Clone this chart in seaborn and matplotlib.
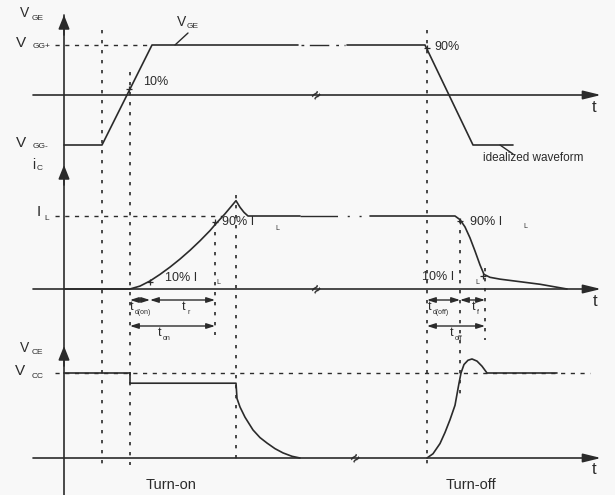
import matplotlib
matplotlib.use("Agg")
import matplotlib.pyplot as plt
import seaborn as sns

# time axis in px-like units, t = 0 at the vertical axis
# gate-emitter voltage (V_GG- = -1, V_GG+ = 1)
t_vge_on = [0, 38, 88, 234]
v_vge_on = [-1, -1, 1, 1]
t_vge_off = [283, 361, 409, 449]
v_vge_off = [1, 1, -1, -1]

# collector current (I_L = 1)
t_ic_on = [0, 66, 76, 86, 96, 106, 116, 126, 136, 146, 151, 161, 172, 176, 180, 184, 236]
v_ic_on = [0, 0, 0.04, 0.11, 0.2, 0.3, 0.41, 0.53, 0.66, 0.8, 0.88, 1.03, 1.21, 1.12, 1.05, 1.0, 1.0]
t_ic_off = [306, 391, 396, 401, 406, 411, 416, 420, 426, 436, 456, 476, 503]
v_ic_off = [1, 1, 0.95, 0.85, 0.7, 0.52, 0.33, 0.2, 0.16, 0.135, 0.1, 0.065, 0]

# collector-emitter voltage (V_CC = 1)
t_vce_on = [0, 66, 66, 172, 173, 176, 181, 189, 196, 203, 211, 219, 228, 236]
v_vce_on = [1, 1, 0.88, 0.88, 0.7, 0.6, 0.48, 0.33, 0.24, 0.176, 0.11, 0.06, 0.02, 0]
t_vce_off = [363, 369, 376, 381, 386, 391, 395, 397, 400, 404, 408, 413, 418, 423, 493]
v_vce_off = [0, 0.05, 0.17, 0.3, 0.45, 0.62, 0.88, 1.0, 1.1, 1.15, 1.165, 1.14, 1.08, 1.0, 1.0]

# switching instants and the span of their dotted guides (top, bottom in px)
guides = [(38, 30, 465), (66, 72, 465), (151, 222, 335), (172, 195, 465),
          (363, 30, 465), (396, 220, 395), (421, 268, 340)]

# timing intervals: (start, end, row y px)
intervals = [(66, 86, 300), (86, 151, 300), (66, 151, 326),
             (363, 396, 300), (396, 421, 300), (363, 421, 326)]

sns.set_style("white")
plt.rcParams['font.family'] = ['Liberation Sans', 'DejaVu Sans']
ink = "#2b2b2b"
bg = "#f8f8f8"

W, H = 615, 495
fig = plt.figure(figsize=(6.15, 4.95), dpi=100, facecolor=bg)
xlim = (-64, 551)

def panel(top, bottom, zero, unit):
    ax = fig.add_axes([0, 1 - bottom / H, 1, (bottom - top) / H])
    ax.set_xlim(*xlim)
    ax.set_ylim((zero - bottom) / unit, (zero - top) / unit)
    ax.set_facecolor("none")
    ax.axis("off")
    return ax

ax1 = panel(0, 160, 95, 50)
ax2 = panel(160, 340, 289, 73)
ax3 = panel(340, 495, 458, 85)

axis_arrow = dict(arrowstyle="-|>,head_length=0.9,head_width=0.22", mutation_scale=12,
                  lw=1.2, color=ink, shrinkA=0, shrinkB=0)

for ax in (ax1, ax2, ax3):
    ax.annotate("", xy=(537, 0), xytext=(-31, 0), arrowprops=axis_arrow)

# waveforms
lw = 1.2
sns.lineplot(x=t_vge_on, y=v_vge_on, ax=ax1, color=ink, lw=lw, estimator=None, sort=False)
sns.lineplot(x=t_vge_off, y=v_vge_off, ax=ax1, color=ink, lw=lw, estimator=None, sort=False)
ax1.plot([237, 281], [1, 1], color=ink, lw=1.0, linestyle=(0, (2, 4, 14, 5, 2, 4)))

sns.lineplot(x=t_ic_on, y=v_ic_on, ax=ax2, color=ink, lw=lw, estimator=None, sort=False)
sns.lineplot(x=t_ic_off, y=v_ic_off, ax=ax2, color=ink, lw=lw, estimator=None, sort=False)
ax2.plot([236, 306], [1, 1], color=ink, lw=1.0, linestyle=(0, (27, 7, 1.5, 7, 1.5, 7)))

sns.lineplot(x=t_vce_on, y=v_vce_on, ax=ax3, color=ink, lw=lw, estimator=None, sort=False)
sns.lineplot(x=t_vce_off, y=v_vce_off, ax=ax3, color=ink, lw=lw, estimator=None, sort=False)

# dashed reference levels
dash = (0, (3, 4))
ax1.plot([-9, 88], [1, 1], color=ink, lw=1.0, linestyle=dash)
ax2.plot([-9, 158], [1, 1], color=ink, lw=1.0, linestyle=dash)
ax3.plot([-9, 526], [1, 1], color=ink, lw=1.0, linestyle=dash)

# 10% / 90% marks
mk = dict(marker="+", markersize=5, color=ink, mew=0.9, linestyle="none")
ax1.plot([65, 363], [0.12, 0.94], **mk)
ax2.plot([86, 151, 396, 419], [0.1, 0.92, 0.93, 0.18], **mk)

# overlay in pixel coordinates for guides and text
ov = fig.add_axes([0, 0, 1, 1])
ov.set_xlim(*xlim)
ov.set_ylim(H, 0)
ov.set_facecolor("none")
ov.axis("off")

ov.plot([0, 0], [15, 495], color=ink, lw=1.2)
for y in (15, 165, 346):
    ov.annotate("", xy=(0, y), xytext=(0, y + 20),
                arrowprops=dict(arrowstyle="-|>,head_length=0.7,head_width=0.28",
                                mutation_scale=12, lw=1.2, color=ink, shrinkA=0, shrinkB=0))

for t, y0, y1 in guides:
    ov.plot([t, t], [y0, y1], color=ink, lw=1.2, linestyle=(0, (2, 4)))

small_arrow = dict(arrowstyle="<|-|>,head_length=0.5,head_width=0.16", mutation_scale=10,
                   lw=1.0, color=ink, shrinkA=0, shrinkB=0)
for t0, t1, y in intervals:
    ov.annotate("", xy=(t1, y), xytext=(t0, y), arrowprops=small_arrow)

def lab(x, y, main, sub, fs=10.5, sfs=6, dx=11, dy=5):
    ov.text(x - 64, y, main, fontsize=fs, color=ink, ha="left", va="center")
    if sub:
        ov.text(x - 64 + dx, y + dy, sub, fontsize=sfs, color=ink, ha="left", va="center")

lab(20, 13, "V", "GE", fs=10, dx=12)
lab(16, 43, "V", "GG+", fs=11, dx=17, dy=3)
lab(16, 143, "V", "GG-", fs=11, dx=17, dy=3)
lab(32, 165, "i", "C", fs=10, dx=5, dy=3)
lab(37, 212, "I", "L", fs=11, dx=7, dy=7)
lab(20, 348, "V", "CE", fs=10, dx=12)
lab(15, 371, "V", "CC", fs=11, dx=17, dy=6)
lab(177, 22, "V", "GE", fs=10, dx=10, dy=5)
ov.plot([175 - 64, 188 - 64], [45, 33], color=ink, lw=1.0)

ov.text(143 - 64, 82, "10%", fontsize=9, color=ink, ha="left", va="center")
ov.text(434 - 64, 47, "90%", fontsize=9, color=ink, ha="left", va="center")
ov.text(483 - 64, 158, "idealized waveform", fontsize=8.5, color=ink, ha="left", va="center")
ov.plot([500 - 64, 513 - 64], [145, 154], color=ink, lw=1.0)

for x, y in ((592, 107), (593, 301), (592, 470)):
    ov.text(x - 64, y, "t", fontsize=12, color=ink, ha="left", va="center")

lab(165, 278, "10% I", "L", fs=9, dx=51, dy=5, sfs=5)
lab(222, 222, "90% I", "L", fs=9, dx=53, dy=7, sfs=5)
lab(470, 222, "90% I", "L", fs=9, dx=53, dy=5, sfs=5)
lab(422, 277, "10% I", "L", fs=9, dx=53, dy=5, sfs=5)

lab(130, 307, "t", "d(on)", fs=9, dx=5, dy=6, sfs=5)
lab(182, 307, "t", "r", fs=9, dx=6, dy=5, sfs=5)
lab(158, 333, "t", "on", fs=9, dx=5, dy=5, sfs=5)
lab(428, 307, "t", "d(off)", fs=9, dx=5, dy=6, sfs=5)
lab(472, 307, "t", "f", fs=9, dx=5, dy=5, sfs=5)
lab(450, 333, "t", "off", fs=9, dx=5, dy=5, sfs=5)

for x, y in ((317, 96), (317, 290), (356, 459)):
    ov.text(x - 64, y, "≈", fontsize=11, color=ink, ha="center", va="center",
            rotation=45, fontweight="bold")

ov.text(171 - 64, 485, "Turn-on", fontsize=10.5, color=ink, ha="center", va="center")
ov.text(471 - 64, 485, "Turn-off", fontsize=10.5, color=ink, ha="center", va="center")

fig.savefig("out.png", dpi=100, facecolor=bg)
